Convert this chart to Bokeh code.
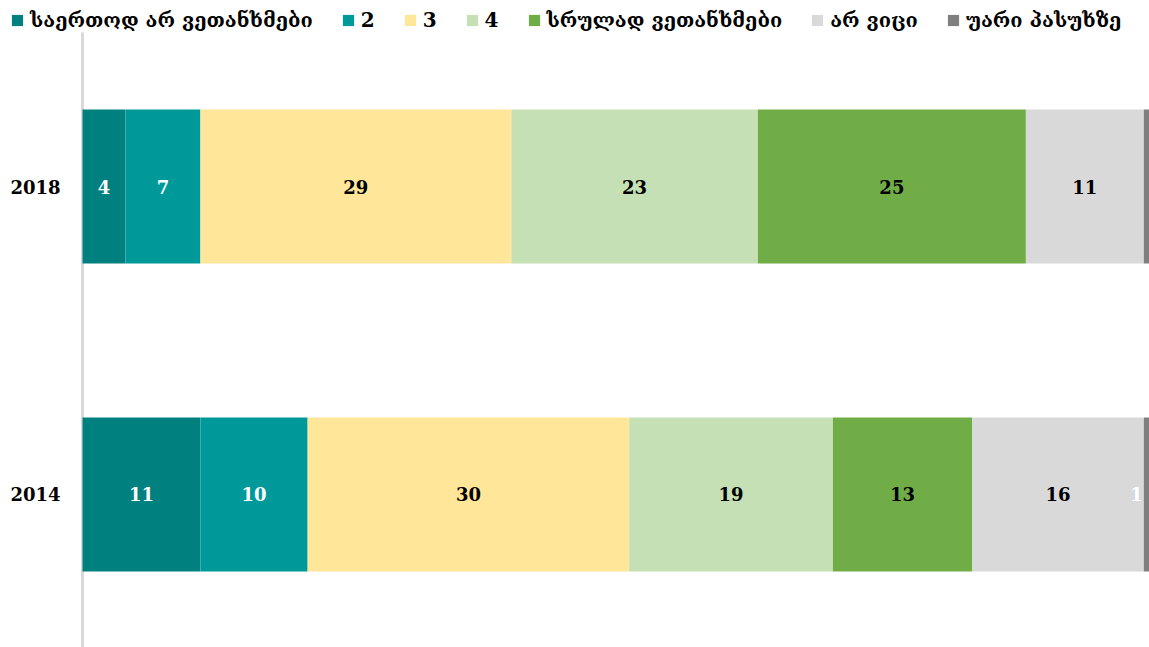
from bokeh.plotting import figure
from bokeh.models import ColumnDataSource, Range1d, Legend
from bokeh.core.properties import value
from bokeh.embed import file_html
from bokeh.resources import INLINE

years = ["2018", "2014"]
series_names = ["საერთოდ არ ვეთანხმები", "2", "3", "4", "სრულად ვეთანხმები", "არ ვიცი", "უარი პასუხზე"]
s_disagree = [4, 11]
s_2 = [7, 10]
s_3 = [29, 30]
s_4 = [23, 19]
s_agree = [25, 13]
s_dk = [11, 16]
s_refuse = [0.5, 1]
series_values = [s_disagree, s_2, s_3, s_4, s_agree, s_dk, s_refuse]

colors = ["#00807f", "#009999", "#ffe699", "#c5e0b4", "#70ad47", "#d9d9d9", "#7f7f7f"]
label_colors = ["white", "white", "black", "black", "black", "black", "white"]
FONT = "DejaVu Serif"

# numeric row positions: 2018 on top, 2014 below
ypos = [len(years) - 1 - i for i in range(len(years))]

Y_TOP_LINE = 1.5
p = figure(width=1149, height=647, output_backend="svg", toolbar_location=None,
           x_range=Range1d(-7.649, 99.53), y_range=Range1d(-0.497, 1.604),
           min_border=0)
p.outline_line_color = None
p.grid.visible = False
p.axis.visible = False

# vertical category axis line
p.segment(x0=[0], x1=[0], y0=[Y_TOP_LINE], y1=[-0.497], line_color="#d9d9d9", line_width=3)

left = [0.0] * len(years)
items = []
for i, (name, vals) in enumerate(zip(series_names, series_values)):
    right = [l + v for l, v in zip(left, vals)]
    src = ColumnDataSource(dict(y=ypos, left=left, right=right))
    r = p.hbar(y="y", left="left", right="right", height=0.5, source=src,
               fill_color=colors[i], line_color=None)
    items.append((name, [r]))
    show_idx = [k for k, v in enumerate(vals) if v >= 1]
    if show_idx:
        last = i == len(series_names) - 1
        xs = [left[k] if last else (left[k] + right[k]) / 2 for k in show_idx]
        p.text(x=xs, y=[ypos[k] for k in show_idx],
               text=[str(round(vals[k])) for k in show_idx],
               text_align="right" if last else "center", text_baseline="middle",
               x_offset=-1 if last else 0,
               text_font=value(FONT), text_font_style="bold", text_font_size="18px",
               text_color=label_colors[i])
    left = right

# year labels (category tick labels)
p.text(x=[0] * len(years), y=ypos, text=years, text_align="right", text_baseline="middle",
       x_offset=-22, text_font=value(FONT), text_font_style="bold", text_font_size="18px",
       text_color="black")

legend = Legend(items=items, orientation="horizontal", location=(10, 615),
                glyph_width=14, glyph_height=14, label_standoff=6, spacing=28,
                padding=0, margin=0, label_height=20, label_width=0,
                label_text_font=FONT, label_text_font_style="bold",
                label_text_font_size="20px", label_text_color="black",
                background_fill_alpha=0, border_line_color=None)
p.add_layout(legend, "center")

open("out.html", "w").write(file_html(p, INLINE))
